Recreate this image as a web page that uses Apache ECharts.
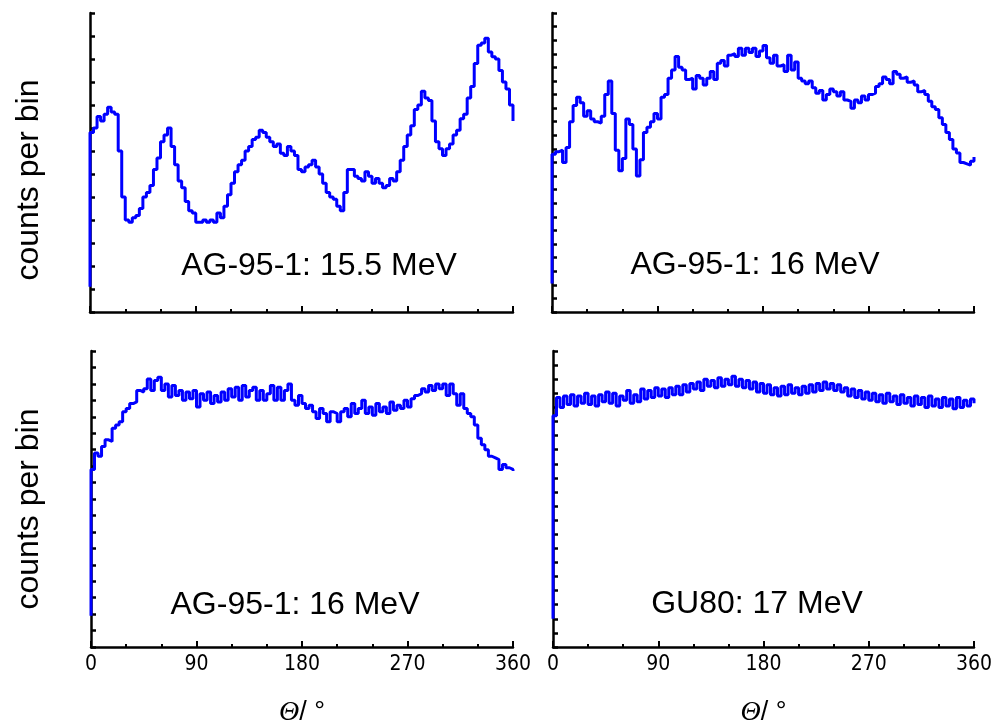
<!DOCTYPE html>
<html>
<head>
<meta charset="utf-8">
<script src="https://cdn.jsdelivr.net/npm/echarts@6/dist/echarts.min.js"></script>
<style>
html,body{margin:0;padding:0;background:#fff;}
#chart{width:997px;height:728px;}
</style>
</head>
<body>
<div id="chart"></div>
<script>
// ---- data (arbitrary count units) ----
const binWidthDeg = 3;                 // angular bin width
const xTicks = [0, 90, 180, 270, 360]; // theta tick labels (deg)

const panelTitles = ['AG-95-1: 15.5 MeV', 'AG-95-1: 16 MeV', 'AG-95-1: 16 MeV', 'GU80: 17 MeV'];

// value before the first bin (leading edge) and value at the closing edge
const leadValues = [11, 21, 19, 20];
const endValues  = [83, 114, 107, 173];

const countsAG95_155 = [
 78,80,85,83,86,89,87,86,70,50, 40,39,41,42,45,50,52,55,62,67,
 74,77,80,72,64,57,54,48,44,43, 39,39,40,39,40,39,43,41,46,51,
 56,61,64,66,70,72,75,76,79,78, 76,74,72,73,69,68,72,70,68,62,
 61,63,64,66,63,60,56,52,50,49, 46,44,52,62,62,59,58,57,61,59,
 56,58,56,54,55,58,57,61,66,72, 77,81,88,90,96,93,92,83,74,71,
 68,71,73,77,79,84,86,93,98,108, 116,117,119,113,111,110,105,100,97,90
];
const countsAG95_16a = [
 116,118,119,110,121,140,152,158,154,144, 148,142,140,139,144,160,170,146,119,104,
 113,142,138,120,100,112,132,136,140,146, 142,158,160,172,178,188,180,178,171,172,
 164,174,172,167,172,177,171,183,185,181, 189,190,188,194,189,194,191,194,188,192,
 196,187,183,189,181,182,177,189,178,184, 172,170,168,170,165,161,163,156,160,164,
 162,159,162,156,155,150,156,154,159,156, 160,161,166,168,173,171,168,177,175,172,
 173,169,170,167,162,163,160,155,151,149, 143,138,132,127,120,117,110,109,108,111
];
const countsAG95_16b = [
 108,118,116,122,126,125,133,135,137,143, 145,148,149,156,155,157,163,156,162,164,
 156,160,152,159,153,156,150,155,151,156, 146,154,150,155,148,153,149,155,150,157,
 152,158,150,159,152,156,158,150,156,150, 154,159,150,158,150,156,160,150,147,153,
 148,145,147,143,139,145,142,137,143,142, 137,143,145,140,148,142,145,150,142,146,
 141,148,143,146,142,149,144,147,145,150, 146,151,153,154,157,155,159,156,160,157,
 160,153,160,154,147,154,145,142,140,135, 127,123,120,116,115,114,108,111,109,108
];
const countsGU80_17 = [
 164,177,170,178,172,179,171,178,173,180, 172,178,171,179,174,181,173,180,171,178,
 175,182,173,179,174,183,176,182,177,184, 178,183,177,184,179,185,179,186,181,187,
 183,188,182,190,185,189,184,191,185,190, 186,192,185,190,184,189,183,188,181,187,
 180,186,179,184,178,185,179,186,180,184, 179,185,180,186,181,187,182,188,183,187,
 182,186,181,184,178,183,177,182,176,181, 175,180,174,179,173,180,174,178,172,179,
 173,177,171,178,172,177,170,178,171,176, 170,177,171,176,169,177,170,175,171,176
];
const panelCounts = [countsAG95_155, countsAG95_16a, countsAG95_16b, countsGU80_17];
const yMax = [130, 220, 180, 210]; // axis top, in the same units (tick every 10)

// ---- build ----
const grids = [
  {left: 90,  top: 13,  width: 423, height: 299},
  {left: 552, top: 13,  width: 422, height: 299},
  {left: 91,  top: 351, width: 422, height: 297},
  {left: 553, top: 351, width: 421, height: 297}
];

function stepData(counts, lead, endV) {
  const pts = [[0, lead]];
  counts.forEach((v, i) => pts.push([i * binWidthDeg, v]));
  pts.push([counts.length * binWidthDeg, endV]);
  return pts;
}

const axisColor = '#000';
const xAxes = grids.map((g, i) => ({
  type: 'value', gridIndex: i, min: xTicks[0], max: xTicks[xTicks.length - 1], interval: 90,
  axisLine: {show: true, onZero: false, lineStyle: {color: axisColor, width: 2.5}},
  axisTick: {show: true, inside: true, length: 6, lineStyle: {color: axisColor, width: 2}},
  minorTick: {show: true, splitNumber: 3, length: 3, lineStyle: {color: axisColor, width: 2}},
  splitLine: {show: false},
  axisLabel: {show: i >= 2, color: '#000', fontSize: 21, margin: 7,
              fontFamily: '"Liberation Sans Narrow", "DejaVu Sans Condensed", "Liberation Sans", sans-serif'},
  name: i >= 2 ? '{t|Θ}{s|/ °}' : '',
  nameLocation: 'middle', nameGap: 52,
  nameTextStyle: {rich: {
    t: {fontFamily: '"Liberation Serif", serif', fontStyle: 'italic', fontSize: 28, color: '#000'},
    s: {fontFamily: '"Liberation Sans", sans-serif', fontSize: 27, color: '#000'}
  }}
}));
const yAxes = grids.map((g, i) => ({
  type: 'value', gridIndex: i, min: 0, max: yMax[i], interval: 10,
  axisLine: {show: true, onZero: false, lineStyle: {color: axisColor, width: 2.5}},
  axisTick: {show: true, inside: true, length: 5, lineStyle: {color: axisColor, width: 2.5}},
  axisLabel: {show: false}, splitLine: {show: false}
}));
const series = panelCounts.map((c, i) => ({
  type: 'line', xAxisIndex: i, yAxisIndex: i, step: 'end', showSymbol: false,
  data: stepData(c, leadValues[i], endValues[i]),
  lineStyle: {color: '#0000ff', width: 3}, z: 3, animation: false
}));

const titleFont = '32px "Liberation Sans", Arial, sans-serif';
const titlePos = [[319, 266], [755, 265], [295, 605], [757, 604]];
const graphics = panelTitles.map((t, i) => ({
  type: 'text', x: titlePos[i][0], y: titlePos[i][1],
  style: {text: t, font: titleFont, fill: '#000', textAlign: 'center', textVerticalAlign: 'middle'}
}));
[[29, 180], [29, 509]].forEach(p => graphics.push({
  type: 'text', x: p[0], y: p[1], rotation: Math.PI / 2,
  style: {text: 'counts per bin', font: '32px "Liberation Sans", Arial, sans-serif', fill: '#000',
          textAlign: 'center', textVerticalAlign: 'middle'}
}));

const chart = echarts.init(document.getElementById('chart'), null, {renderer: 'canvas'});
chart.setOption({
  animation: false,
  backgroundColor: '#fff',
  grid: grids,
  xAxis: xAxes,
  yAxis: yAxes,
  series: series,
  graphic: graphics
});
</script>
</body>
</html>
